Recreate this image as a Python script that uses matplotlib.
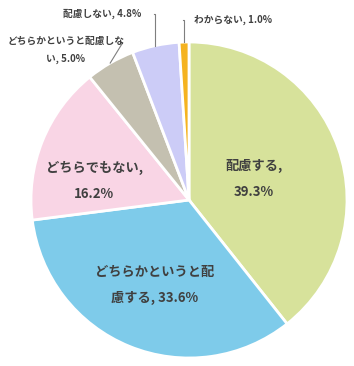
import matplotlib.pyplot as plt
import numpy as np

plt.rcParams['font.family'] = ['Noto Sans CJK JP', 'DejaVu Sans']

labels = ['配慮する', 'どちらかというと配慮する', 'どちらでもない',
          'どちらかというと配慮しない', '配慮しない', 'わからない']
values = [39.3, 33.6, 16.2, 5.0, 4.8, 1.0]
colors = ['#D7E29B', '#7ECBEA', '#F9D5E5', '#C4C0B0', '#CCCCF7', '#F5B320']

# label text as shown in the chart
inside_text = ['配慮する,\n39.3%', 'どちらかというと配\n慮する, 33.6%', 'どちらでもない,\n16.2%']
inside_pos = [(0.41, 0.135), (-0.215, -0.54), (-0.60, 0.12)]
outside_text = ['どちらかというと配慮しな\nい, 5.0%', '配慮しない, 4.8%', 'わからない, 1.0%']
# elbow of leader line and where text sits
elbow = [(-0.42, 0.995), (-0.22, 1.18), (-0.04, 1.14)]
text_pos = [(-0.78, 0.95), (-0.30, 1.18), (0.03, 1.14)]

fig = plt.figure(figsize=(3.54, 3.66), dpi=100)
ax = fig.add_axes([31 / 354, 8 / 366, 316 / 354, 316 / 366])
wedges, _ = ax.pie(values, colors=colors, startangle=90, counterclock=False,
                   wedgeprops=dict(edgecolor='white', linewidth=2))
ax.set_xlim(-1, 1)
ax.set_ylim(-1, 1)
ax.set_aspect('equal')
ax.axis('off')

for t, (x, y) in zip(inside_text, inside_pos):
    ax.text(x, y, t, ha='center', va='center', fontsize=9.5, fontweight='bold',
            color='#404040', linespacing=2.1)

for i, w in enumerate(wedges[3:]):
    mid = np.deg2rad((w.theta1 + w.theta2) / 2)
    ex, ey = np.cos(mid), np.sin(mid)
    bx, by = elbow[i]
    tx, ty = text_pos[i]
    if i == 0:
        ax.plot([ex, bx], [ey, by], color='#7f7f7f', lw=0.8, clip_on=False)
        ax.text(tx, ty, outside_text[i], ha='center', va='center', fontsize=7,
                fontweight='bold', color='#404040', linespacing=2.0,
                multialignment='center', clip_on=False)
    elif i == 1:
        ax.plot([ex, ex, bx], [ey, by, by], color='#7f7f7f', lw=0.8, clip_on=False)
        ax.text(tx, ty, outside_text[i], ha='right', va='center', fontsize=7,
                fontweight='bold', color='#404040', clip_on=False)
    else:
        ax.plot([ex, ex, bx], [ey, by, by], color='#7f7f7f', lw=0.8, clip_on=False)
        ax.text(tx, ty, outside_text[i], ha='left', va='center', fontsize=7,
                fontweight='bold', color='#404040', clip_on=False)

fig.savefig('out.png', dpi=100, facecolor='white')
